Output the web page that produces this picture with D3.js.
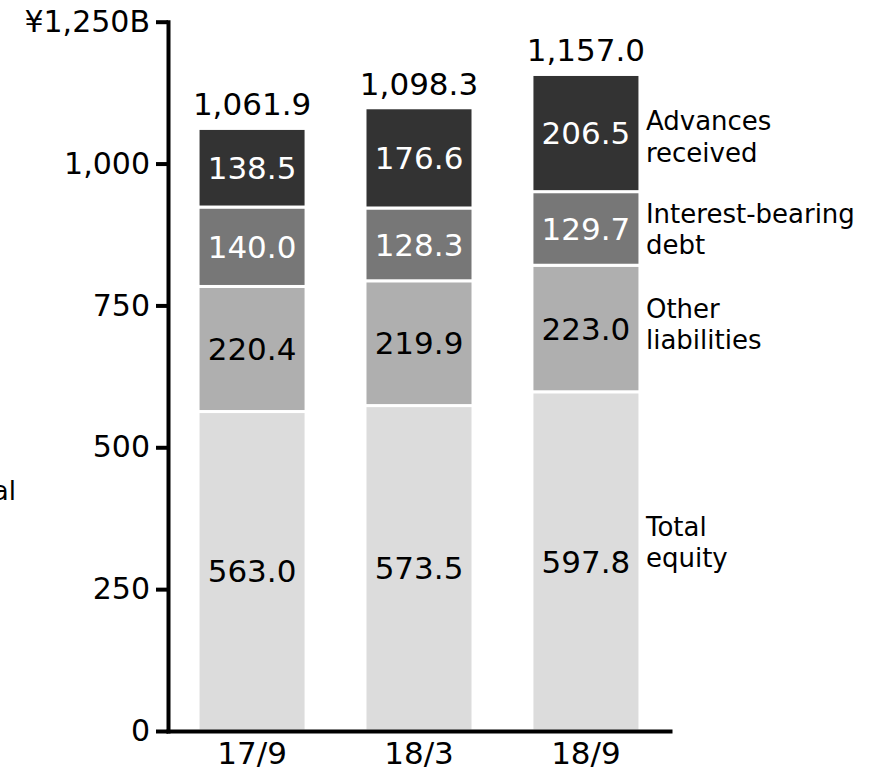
<!DOCTYPE html>
<html>
<head>
<meta charset="utf-8">
<script src="https://cdn.jsdelivr.net/npm/d3@7"></script>
<style>
  html, body { margin: 0; padding: 0; background: #fff; }
  svg { display: block; font-family: "DejaVu Sans", Verdana, sans-serif; }
</style>
</head>
<body>
<svg id="chart" width="870" height="775"></svg>
<script>
// Balance sheet composition (¥ billions)
const categories = ["17/9", "18/3", "18/9"];
const totalEquity = [563.0, 573.5, 597.8];
const otherLiabilities = [220.4, 219.9, 223.0];
const interestBearingDebt = [140.0, 128.3, 129.7];
const advancesReceived = [138.5, 176.6, 206.5];
const totals = [1061.9, 1098.3, 1157.0];
const yTicks = [0, 250, 500, 750, 1000, 1250];

const seriesKeys = ["equity", "other", "interest", "advances"];
const seriesNames = {
  equity: ["Total", "equity"],
  other: ["Other", "liabilities"],
  interest: ["Interest-bearing", "debt"],
  advances: ["Advances", "received"]
};
const fills = { equity: "#dcdcdc", other: "#afafaf", interest: "#777777", advances: "#333333" };
const labelInk = { equity: "#000", other: "#000", interest: "#fff", advances: "#fff" };
// vertical nudge of the side labels relative to the segment middle
const sideLabelShift = { equity: -20, other: -5, interest: 0, advances: 3 };

const rows = categories.map((c, i) => ({
  cat: c,
  equity: totalEquity[i],
  other: otherLiabilities[i],
  interest: interestBearingDebt[i],
  advances: advancesReceived[i],
  total: totals[i]
}));

const svg = d3.select("#chart");
const y = d3.scaleLinear().domain([0, 1250]).range([731, 21.7]);
const x = d3.scaleBand().domain(categories).range([168, 670])
  .paddingInner(0.353).paddingOuter(0.18);

const stacked = d3.stack().keys(seriesKeys)(rows);

// bars
const layers = svg.append("g").selectAll("g").data(stacked).join("g")
  .attr("fill", d => fills[d.key]);
layers.selectAll("rect").data(d => d.map(p => ({ p, key: d.key }))).join("rect")
  .attr("x", d => x(d.p.data.cat))
  .attr("width", x.bandwidth())
  .attr("y", d => y(d.p[1]))
  .attr("height", d => y(d.p[0]) - y(d.p[1]))
  .attr("stroke", "#fff")
  .attr("stroke-width", 3);

// segment value labels
layers.selectAll("text").data(d => d.map(p => ({ p, key: d.key }))).join("text")
  .attr("x", d => x(d.p.data.cat) + x.bandwidth() / 2)
  .attr("y", d => y((d.p[0] + d.p[1]) / 2))
  .attr("dy", "0.36em")
  .attr("text-anchor", "middle")
  .attr("font-size", 31)
  .attr("fill", d => labelInk[d.key])
  .text(d => d3.format(".1f")(d.p.data[d.key]));

// totals above bars
svg.append("g").selectAll("text").data(rows).join("text")
  .attr("x", d => x(d.cat) + x.bandwidth() / 2)
  .attr("y", d => y(d.total) - 13)
  .attr("text-anchor", "middle")
  .attr("font-size", 31)
  .attr("fill", "#000")
  .text(d => d3.format(",.1f")(d.total));

// series names beside the last bar
const lastCat = categories[categories.length - 1];
const sideX = x(lastCat) + x.bandwidth() + 6;
const last = stacked.map(s => ({ key: s.key, seg: s[s.length - 1] }));
const side = svg.append("g").selectAll("text").data(last).join("text")
  .attr("x", sideX)
  .attr("y", d => y((d.seg[0] + d.seg[1]) / 2) + sideLabelShift[d.key])
  .attr("font-size", 26)
  .attr("fill", "#000");
side.selectAll("tspan").data(d => seriesNames[d.key].map((t, i) => ({ t, i }))).join("tspan")
  .attr("x", sideX)
  .attr("dy", d => d.i === 0 ? "-0.22em" : "1.2em")
  .text(d => d.t);

// y axis
const yAxis = svg.append("g").attr("transform", "translate(168,0)")
  .call(d3.axisLeft(y).tickValues(yTicks).tickSize(12).tickSizeOuter(0).tickPadding(6)
    .tickFormat(v => v === 1250 ? "¥" + d3.format(",")(v) + "B" : d3.format(",")(v)));
yAxis.select(".domain").attr("stroke", "#000").attr("stroke-width", 4).attr("stroke-linecap", "square");
yAxis.selectAll(".tick line").attr("stroke", "#000").attr("stroke-width", 4);
yAxis.selectAll(".tick text").attr("font-size", 30).attr("fill", "#000")
  .attr("font-family", "DejaVu Sans, Verdana, sans-serif");

// x axis
const xAxis = svg.append("g").attr("transform", "translate(0,731)")
  .call(d3.axisBottom(x).tickSize(0).tickSizeOuter(0).tickPadding(11));
xAxis.select(".domain").attr("stroke", "#000").attr("stroke-width", 4).attr("stroke-linecap", "square");
xAxis.selectAll(".tick text").attr("font-size", 31).attr("fill", "#000")
  .attr("font-family", "DejaVu Sans, Verdana, sans-serif");

// clipped caption at the left edge
svg.append("text")
  .attr("x", 16).attr("y", 500)
  .attr("text-anchor", "end")
  .attr("font-size", 26)
  .attr("fill", "#000")
  .text("Total");
</script>
</body>
</html>
